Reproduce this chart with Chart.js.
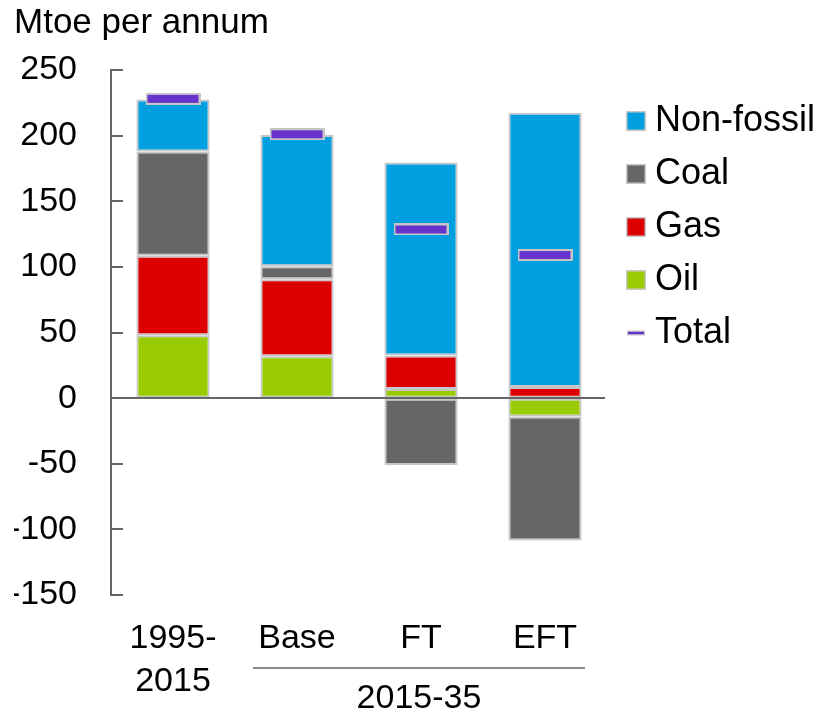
<!DOCTYPE html>
<html>
<head>
<meta charset="utf-8">
<script src="https://cdn.jsdelivr.net/npm/chart.js@4.4.1/dist/chart.umd.min.js"></script>
<style>
  html, body { margin: 0; padding: 0; background: #fff; }
  #wrap { width: 825px; height: 714px; }
</style>
</head>
<body>
<div id="wrap"><canvas id="chart"></canvas></div>
<script>
// change in primary energy, Mtoe per annum
const categories = [["1995-", "2015"], "Base", "FT", "EFT"];
const groupLabel = "2015-35";
const oil = [48, 32, 7, -14];
const gas = [60.5, 58.5, 25.5, 8.5];
const coal = [79.5, 10, -51, -94.5];
const nonFossil = [39.5, 100, 147, 209];
const total = [228, 201, 128.5, 109];
const yTicks = [-150, -100, -50, 0, 50, 100, 150, 200, 250];

const COLORS = {
  nonFossil: "#009fe0",
  coal: "#666666",
  gas: "#dd0000",
  oil: "#99cc00",
  total: "#6633cc",
};
const EDGE = "#c6c6c6";
const AXIS = "#666666";
const FONT = "'Liberation Sans', Arial, sans-serif";

// small purple bar used as the point style for totals
function makeMarker(w, h) {
  const c = document.createElement("canvas");
  c.width = w;
  c.height = h;
  const g = c.getContext("2d");
  g.fillStyle = EDGE;
  g.fillRect(0, 0, w, h);
  g.fillStyle = COLORS.total;
  g.fillRect(2, 2, w - 4, h - 4);
  return c;
}

const legendItems = [
  { label: "Non-fossil", color: COLORS.nonFossil },
  { label: "Coal", color: COLORS.coal },
  { label: "Gas", color: COLORS.gas },
  { label: "Oil", color: COLORS.oil },
  { label: "Total", color: COLORS.total, line: true },
];

// inward tick marks on the y axis + zero line on top of the bars
const axisMarks = {
  id: "axisMarks",
  afterDatasetsDraw(chart) {
    const { ctx, chartArea, scales } = chart;
    const y = scales.y;
    ctx.save();
    ctx.strokeStyle = AXIS;
    ctx.lineWidth = 2;
    ctx.beginPath();
    yTicks.forEach((v) => {
      const py = Math.round(y.getPixelForValue(v));
      ctx.moveTo(chartArea.left, py);
      ctx.lineTo(chartArea.left + 12, py);
    });
    const zy = Math.round(y.getPixelForValue(0));
    ctx.moveTo(chartArea.left, zy);
    ctx.lineTo(chartArea.right - 2, zy);
    ctx.stroke();
    ctx.restore();
  },
};

// bracket line + label under the scenario columns
const groupBracket = {
  id: "groupBracket",
  afterDraw(chart) {
    const { ctx, chartArea, scales } = chart;
    const x = scales.x;
    const x0 = x.getPixelForValue(1) - 44;
    const x1 = x.getPixelForValue(3) + 40;
    const ly = chartArea.bottom + 73;
    ctx.save();
    ctx.strokeStyle = AXIS;
    ctx.lineWidth = 1.5;
    ctx.beginPath();
    ctx.moveTo(x0, ly);
    ctx.lineTo(x1, ly);
    ctx.stroke();
    ctx.fillStyle = "#000";
    ctx.font = `34px ${FONT}`;
    ctx.textAlign = "center";
    ctx.textBaseline = "middle";
    ctx.fillText(groupLabel, (x0 + x1) / 2, ly + 31);
    ctx.restore();
  },
};

const sideLegend = {
  id: "sideLegend",
  afterDraw(chart) {
    const { ctx, chartArea } = chart;
    const bx = chartArea.right + 19;
    ctx.save();
    ctx.font = `36px ${FONT}`;
    ctx.textBaseline = "middle";
    legendItems.forEach((it, i) => {
      const cy = chartArea.top + 51 + i * 53;
      if (it.line) {
        ctx.fillStyle = EDGE;
        ctx.fillRect(bx + 1, cy - 2.5, 18, 5);
        ctx.fillStyle = it.color;
        ctx.fillRect(bx + 2, cy - 1.2, 16, 2.4);
      } else {
        ctx.fillStyle = EDGE;
        ctx.fillRect(bx, cy - 10, 20, 20);
        ctx.fillStyle = it.color;
        ctx.fillRect(bx + 1.5, cy - 8.5, 17, 17);
      }
      ctx.fillStyle = "#000";
      ctx.fillText(it.label, bx + 29, cy);
    });
    ctx.restore();
  },
};

const barStyle = {
  type: "bar",
  stack: "mix",
  borderColor: EDGE,
  borderWidth: 2,
  borderSkipped: false,
  barPercentage: 0.59,
  categoryPercentage: 1,
};

new Chart(document.getElementById("chart"), {
  data: {
    labels: categories,
    datasets: [
      { ...barStyle, label: "Oil", data: oil, backgroundColor: COLORS.oil },
      { ...barStyle, label: "Gas", data: gas, backgroundColor: COLORS.gas },
      { ...barStyle, label: "Coal", data: coal, backgroundColor: COLORS.coal },
      { ...barStyle, label: "Non-fossil", data: nonFossil, backgroundColor: COLORS.nonFossil },
      {
        type: "line",
        label: "Total",
        stack: "total",
        data: total,
        showLine: false,
        pointStyle: makeMarker(55, 12),
        order: -1,
        clip: false,
      },
    ],
  },
  options: {
    responsive: true,
    maintainAspectRatio: false,
    animation: false,
    layout: { padding: { left: 14, right: 218, top: 0, bottom: 13 } },
    plugins: {
      legend: { display: false },
      tooltip: { enabled: false },
      title: {
        display: true,
        text: "Mtoe per annum",
        align: "start",
        color: "#000",
        font: { family: FONT, size: 35, weight: "normal" },
        padding: { top: 2, bottom: 26 },
      },
    },
    scales: {
      x: {
        stacked: true,
        grid: { display: false, drawTicks: false },
        border: { display: false },
        ticks: {
          color: "#000",
          font: { family: FONT, size: 34, lineHeight: 1.24 },
          padding: 23,
          maxRotation: 0,
          autoSkip: false,
        },
        afterFit(scale) {
          scale.height = 106;
        },
      },
      y: {
        stacked: true,
        min: yTicks[0],
        max: yTicks[yTicks.length - 1],
        grid: { display: true, drawOnChartArea: false, drawTicks: false },
        border: { display: true, color: AXIS, width: 2 },
        ticks: {
          stepSize: yTicks[1] - yTicks[0],
          color: "#000",
          font: { family: FONT, size: 34 },
          padding: 34,
        },
        afterFit(scale) {
          scale.width = 97;
        },
      },
    },
  },
  plugins: [axisMarks, groupBracket, sideLegend],
});
</script>
</body>
</html>
